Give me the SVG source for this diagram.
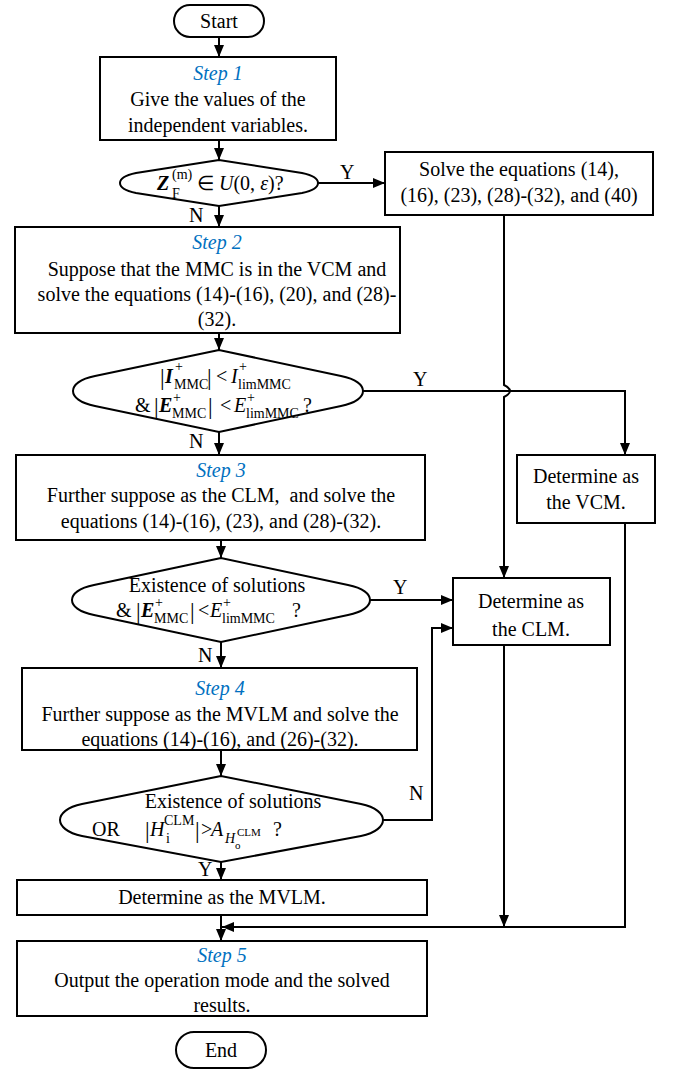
<svg xmlns="http://www.w3.org/2000/svg" width="674" height="1074" viewBox="0 0 674 1074">
<style>
text{font-family:"Liberation Serif","Times New Roman",serif;font-size:20px;fill:#000}
.c{text-anchor:middle}
.step{fill:#0070C0;font-style:italic}
.bi{font-weight:bold;font-style:italic}
.i{font-style:italic}
.s{font-size:14px}
.xs{font-size:11px}
.bar{font-size:23px}
.box{fill:#fff;stroke:#000;stroke-width:2}
.ln{fill:none;stroke:#000;stroke-width:2}
</style>
<defs>
<marker id="ah" markerUnits="userSpaceOnUse" markerWidth="12" markerHeight="10" refX="12" refY="5" orient="auto">
<path d="M0,0 L12,5 L0,10 Z" fill="#000"/>
</marker>
</defs>
<g id="connectors">
<path class="ln" d="M219,37 V57" marker-end="url(#ah)"/>
<path class="ln" d="M219,140 V160" marker-end="url(#ah)"/>
<path class="ln" d="M318,183 H385" marker-end="url(#ah)"/>
<path class="ln" d="M219,206 V227" marker-end="url(#ah)"/>
<path class="ln" d="M219,333 V350" marker-end="url(#ah)"/>
<path class="ln" d="M363,391 H625 V455" marker-end="url(#ah)"/>
<path class="ln" d="M504,215 V385 Q510,388 510,391 Q510,394 504,397 V578" marker-end="url(#ah)"/>
<path class="ln" d="M219,432 V455" marker-end="url(#ah)"/>
<path class="ln" d="M221,540 V558" marker-end="url(#ah)"/>
<path class="ln" d="M370,600 H453" marker-end="url(#ah)"/>
<path class="ln" d="M221,642 V668" marker-end="url(#ah)"/>
<path class="ln" d="M221,750 V776" marker-end="url(#ah)"/>
<path class="ln" d="M383,820 H432 V628 H453" marker-end="url(#ah)"/>
<path class="ln" d="M221,862 V880" marker-end="url(#ah)"/>
<path class="ln" d="M221,915 V941" marker-end="url(#ah)"/>
<path class="ln" d="M504,645 V927" marker-end="url(#ah)"/>
<path class="ln" d="M625,523 V927 H222" marker-end="url(#ah)"/>
<text x="340" y="179">Y</text>
<text x="189" y="222">N</text>
<text x="413" y="386">Y</text>
<text x="189" y="448">N</text>
<text x="393" y="594">Y</text>
<text x="198" y="662">N</text>
<text x="409" y="800">N</text>
<text x="198" y="876">Y</text>
</g>
<g id="start">
<rect class="box" x="174" y="5" width="90" height="32" rx="16"/>
<text class="c" x="219" y="28">Start</text>
</g>
<g id="step1">
<rect class="box" x="100" y="57" width="236" height="83"/>
<text class="c step" x="218" y="80">Step 1</text>
<text class="c" x="218" y="106">Give the values of the</text>
<text class="c" x="218" y="132">independent variables.</text>
</g>
<g id="dec1">
<path class="box" d="M219,160 L136,173 C124,175.5 120,179 120,183 C120,187 124,190.5 136,193 L219,206 L302,193 C314,190.5 318,187 318,183 C318,179 314,175.5 302,173 Z"/>
<text class="bi" x="157" y="190">Z</text>
<text class="s" x="172" y="179">(m)</text>
<text class="s" x="172" y="198">F</text>
<text x="197" y="190">∈ <tspan class="i">U</tspan>(0, <tspan class="i">ε</tspan>)?</text>
</g>
<g id="solve">
<rect class="box" x="385" y="152" width="268" height="63"/>
<text class="c" x="519" y="176">Solve the equations (14),</text>
<text class="c" x="519" y="202">(16), (23), (28)-(32), and (40)</text>
</g>
<g id="step2">
<rect class="box" x="15" y="227" width="385" height="106"/>
<text class="c step" x="217" y="249">Step 2</text>
<text class="c" x="217" y="276">Suppose that the MMC is in the VCM and</text>
<text class="c" x="217" y="301">solve the equations (14)-(16), (20), and (28)-</text>
<text class="c" x="217" y="326">(32).</text>
</g>
<g id="dec2">
<path class="box" d="M219,350 L95,376 C80,379 73,385 73,391 C73,397 80,403 95,406 L219,432 L341,406 C356,403 363,397 363,391 C363,385 356,379 341,376 Z"/>
<text class="bar" x="160" y="385">|</text>
<text class="bi" x="165" y="383">I</text>
<text class="s" x="175" y="371">+</text>
<text class="s" x="174" y="389">MMC</text>
<text class="bar" x="207" y="385">|</text>
<text x="216" y="383">&lt;</text>
<text class="i" x="231" y="383">I</text>
<text class="s" x="239" y="371">+</text>
<text class="s" x="238" y="389">limMMC</text>
<text x="135" y="412">&amp;</text>
<text class="bar" x="154" y="414">|</text>
<text class="bi" x="159" y="412">E</text>
<text class="s" x="173" y="402">+</text>
<text class="s" x="172" y="418">MMC</text>
<text class="bar" x="208" y="414">|</text>
<text x="220" y="412">&lt;</text>
<text class="i" x="234" y="412">E</text>
<text class="s" x="247" y="402">+</text>
<text class="s" x="246" y="418">limMMC</text>
<text x="303" y="412">?</text>
</g>
<g id="step3">
<rect class="box" x="16" y="455" width="409" height="85"/>
<text class="c step" x="221" y="477">Step 3</text>
<text class="c" x="221" y="502">Further suppose as the CLM,&#160; and solve the</text>
<text class="c" x="221" y="528">equations (14)-(16), (23), and (28)-(32).</text>
</g>
<g id="vcm">
<rect class="box" x="517" y="455" width="138" height="68"/>
<text class="c" x="586" y="483">Determine as</text>
<text class="c" x="586" y="509">the VCM.</text>
</g>
<g id="dec3">
<path class="box" d="M221,558 L94,585 C79,588 72,594 72,600 C72,606 79,612 94,615 L221,642 L348,615 C363,612 370,606 370,600 C370,594 363,588 348,585 Z"/>
<text class="c" x="217" y="592">Existence of solutions</text>
<text x="116" y="617">&amp;</text>
<text class="bar" x="136" y="619">|</text>
<text class="bi" x="141" y="617">E</text>
<text class="s" x="155" y="607">+</text>
<text class="s" x="154" y="623">MMC</text>
<text class="bar" x="190" y="619">|</text>
<text x="198" y="617">&lt;</text>
<text class="i" x="210" y="617">E</text>
<text class="s" x="223" y="607">+</text>
<text class="s" x="222" y="623">limMMC</text>
<text x="292" y="617">?</text>
</g>
<g id="clm">
<rect class="box" x="453" y="578" width="157" height="67"/>
<text class="c" x="531" y="608">Determine as</text>
<text class="c" x="531" y="636">the CLM.</text>
</g>
<g id="step4">
<rect class="box" x="22" y="668" width="395" height="82"/>
<text class="c step" x="220" y="695">Step 4</text>
<text class="c" x="220" y="721">Further suppose as the MVLM and solve the</text>
<text class="c" x="220" y="746">equations (14)-(16), and (26)-(32).</text>
</g>
<g id="dec4">
<path class="box" d="M221,776 L82,804 C67,807 60,814 60,820 C60,826 67,833 82,836 L221,862 L361,836 C376,833 383,826 383,820 C383,814 376,807 361,804 Z"/>
<text class="c" x="233" y="808">Existence of solutions</text>
<text x="92" y="836">OR</text>
<text class="bar" x="145" y="838">|</text>
<text class="i" x="150" y="836">H</text>
<text class="s" x="164" y="825">CLM</text>
<text class="s" x="166" y="843">i</text>
<text class="bar" x="195" y="838">|</text>
<text x="201" y="836">&gt;</text>
<text class="i" x="211" y="836">A</text>
<text class="s i" x="225" y="843">H</text>
<text class="xs" x="235" y="849">o</text>
<text class="xs" x="237" y="836">CLM</text>
<text x="273" y="836">?</text>
</g>
<g id="mvlm">
<rect class="box" x="17" y="880" width="410" height="35"/>
<text class="c" x="222" y="904">Determine as the MVLM.</text>
</g>
<g id="step5">
<rect class="box" x="17" y="941" width="410" height="75"/>
<text class="c step" x="222" y="962">Step 5</text>
<text class="c" x="222" y="987">Output the operation mode and the solved</text>
<text class="c" x="222" y="1012">results.</text>
</g>
<g id="end">
<rect class="box" x="176" y="1032" width="90" height="36" rx="18"/>
<text class="c" x="221" y="1057">End</text>
</g>
</svg>
